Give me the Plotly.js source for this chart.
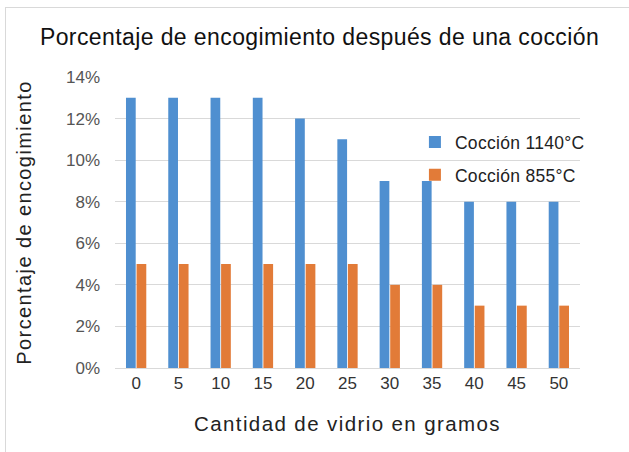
<!DOCTYPE html>
<html>
<head>
<meta charset="utf-8">
<script src="https://cdn.plot.ly/plotly-3.0.1.min.js"></script>
<style>
body{margin:0;padding:0;background:#fff;}
#wrap{position:relative;width:629px;height:452px;}
#chart{width:629px;height:452px;}
#frame{position:absolute;left:5px;top:7px;right:-2px;bottom:-2px;border-left:1.5px solid #d9d9d9;border-top:1.5px solid #d9d9d9;pointer-events:none;}
.gtitle{letter-spacing:0.4px;}
.xtitle,.ytitle{letter-spacing:1.4px;}
.legendtext{letter-spacing:0.3px;}
</style>
</head>
<body>
<div id="wrap"><div id="chart"></div><div id="frame"></div></div>
<script>
const categories = ['0','5','10','15','20','25','30','35','40','45','50'];
const coccion1140 = [0.13,0.13,0.13,0.13,0.12,0.11,0.09,0.09,0.08,0.08,0.08];
const coccion855 = [0.05,0.05,0.05,0.05,0.05,0.05,0.04,0.04,0.03,0.03,0.03];
const seriesNames = ['Cocción 1140°C','Cocción 855°C'];
const yTicks = [0,0.02,0.04,0.06,0.08,0.10,0.12,0.14];

const font = 'Liberation Sans, Arial, sans-serif';
const data = [
  {type:'bar', x:categories, y:coccion1140, name:seriesNames[0], legendgroup:'a', marker:{color:'#4f8fd0'}},
  {type:'bar', x:categories, y:coccion855, name:seriesNames[1], legendgroup:'b', marker:{color:'#e27b38'}}
];
const layout = {
  width:629, height:452,
  margin:{l:115, r:49, t:77, b:84},
  paper_bgcolor:'#fff', plot_bgcolor:'#fff',
  font:{family:font, color:'#404040'},
  title:{text:'Porcentaje de encogimiento después de una cocción', font:{family:font, size:23, color:'#111'}, x:0.508, xanchor:'center', y:0.918, yanchor:'middle'},
  barmode:'group', bargap:0.5, bargroupgap:0.08,
  xaxis:{type:'category', tickfont:{size:17, color:'#333'}, showline:true, linecolor:'#d9d9d9', ticks:'', ticklen:0,
    title:{text:'Cantidad de vidrio en gramos', font:{size:20.5, color:'#222'}, standoff:24}},
  yaxis:{range:[0,0.14], tickvals:yTicks, tickformat:'.0%', tickfont:{size:17, color:'#555'}, gridcolor:'#d9d9d9', gridwidth:1, zeroline:false,
    ticks:'', ticklabelstandoff:14,
    title:{text:'Porcentaje de encogimiento', font:{size:20, color:'#222'}, standoff:28}},
  legend:{x:0.645, y:0.838, xanchor:'left', yanchor:'top', bgcolor:'rgba(0,0,0,0)', font:{size:17.5, color:'#222'}, itemwidth:30, tracegroupgap:7},
  showlegend:true
};
Plotly.newPlot('chart', data, layout, {displayModeBar:false, staticPlot:true});
</script>
</body>
</html>
